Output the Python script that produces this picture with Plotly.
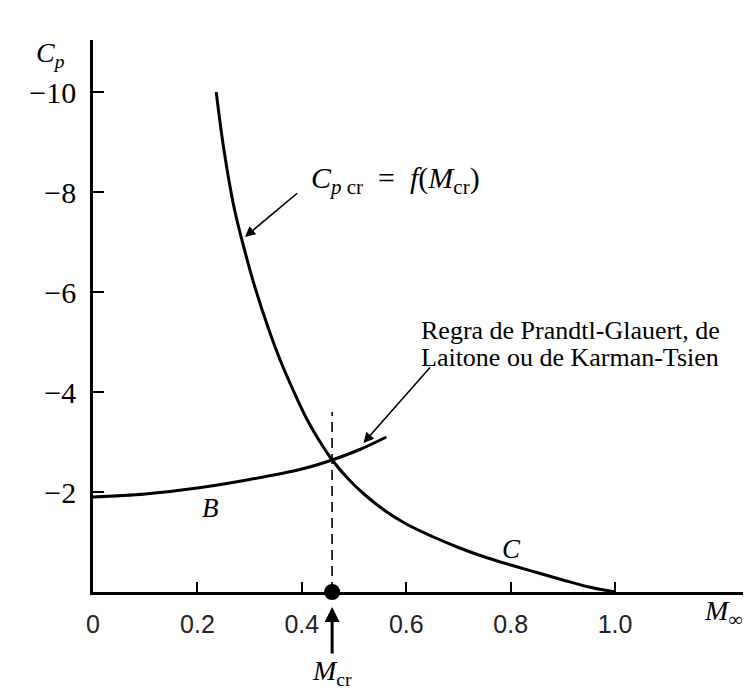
import plotly.graph_objects as go

# Curve C: critical pressure coefficient Cp_cr = f(M_cr)
C_M = [0.236, 0.250, 0.270, 0.290, 0.310, 0.335, 0.360, 0.385, 0.410, 0.435, 0.458, 0.490, 0.520, 0.560,
       0.600, 0.650, 0.700, 0.750, 0.800, 0.850, 0.900, 0.950, 1.0]
C_Cp = [-10.0, -8.9, -7.7, -6.85, -6.1, -5.3, -4.6, -4.0, -3.45, -3.0, -2.64, -2.25, -1.95, -1.62,
        -1.36, -1.11, -0.89, -0.70, -0.54, -0.39, -0.24, -0.10, 0.0]

# Curve B: compressibility correction rule
B_M = [0.0, 0.1, 0.2, 0.3, 0.4, 0.458, 0.511, 0.562]
B_Cp = [-1.90, -1.96, -2.08, -2.25, -2.46, -2.64, -2.85, -3.10]

M_CR = 0.458
DASH_TOP = -3.6

X_TICKS = [0, 0.2, 0.4, 0.6, 0.8, 1.0]
X_TICKTEXT = ["0", "0.2", "0.4", "0.6", "0.8", "1.0"]
Y_TICKS = [-10, -8, -6, -4, -2]
Y_TICKTEXT = ["\u221210", "\u22128", "\u22126", "\u22124", "\u22122"]

SERIF = "Liberation Serif"

fig = go.Figure()
fig.add_trace(go.Scatter(x=C_M, y=C_Cp, mode="lines", line=dict(color="black", width=3, shape="spline", smoothing=1.0),
                         hoverinfo="skip", showlegend=False))
fig.add_trace(go.Scatter(x=B_M, y=B_Cp, mode="lines", line=dict(color="black", width=3, shape="spline", smoothing=1.0),
                         hoverinfo="skip", showlegend=False))
fig.add_trace(go.Scatter(x=[M_CR, M_CR], y=[0, DASH_TOP], mode="lines",
                         line=dict(color="black", width=1.6, dash="10px,6px"),
                         hoverinfo="skip", showlegend=False))
fig.add_trace(go.Scatter(x=[M_CR], y=[0], mode="markers", marker=dict(color="black", size=16),
                         cliponaxis=False, hoverinfo="skip", showlegend=False))

ann = []
# Cp_cr label + arrow
ann.append(dict(x=0.413, y=-8.24, xref="x", yref="y",
                text="<i>C<sub>p</sub></i><sub> cr</sub>  =  <i>f</i>(<i>M</i><sub>cr</sub>)",
                showarrow=False, xanchor="left", yanchor="middle", font=dict(family=SERIF, size=30, color="black")))
ann.append(dict(x=0.291, y=-7.1, ax=0.394, ay=-8.0, xref="x", yref="y", axref="x", ayref="y", text="",
                showarrow=True, arrowhead=2, arrowsize=1.3, arrowwidth=1.6, arrowcolor="black"))
# Rule label (two lines) + arrow
ann.append(dict(x=0.624, y=-5.24, xref="x", yref="y", text="Regra de Prandtl-Glauert, de",
                showarrow=False, xanchor="left", yanchor="middle", font=dict(family=SERIF, size=26, color="black")))
ann.append(dict(x=0.624, y=-4.70, xref="x", yref="y", text="Laitone ou de Karman-Tsien",
                showarrow=False, xanchor="left", yanchor="middle", font=dict(family=SERIF, size=26, color="black")))
ann.append(dict(x=0.518, y=-2.98, ax=0.648, ay=-4.52, xref="x", yref="y", axref="x", ayref="y", text="",
                showarrow=True, arrowhead=2, arrowsize=1.3, arrowwidth=1.6, arrowcolor="black"))
# Curve letters
ann.append(dict(x=0.225, y=-1.68, xref="x", yref="y", text="<i>B</i>", showarrow=False,
                xanchor="center", yanchor="middle", font=dict(family=SERIF, size=27, color="black")))
ann.append(dict(x=0.802, y=-0.86, xref="x", yref="y", text="<i>C</i>", showarrow=False,
                xanchor="center", yanchor="middle", font=dict(family=SERIF, size=27, color="black")))
# Axis titles
ann.append(dict(x=0.969, y=-0.038, xref="paper", yref="paper", text="<i>M</i><sub>\u221e</sub>", showarrow=False,
                xanchor="center", yanchor="middle", font=dict(family=SERIF, size=28, color="black")))
ann.append(dict(x=-0.066, y=0.973, xref="paper", yref="paper", text="<i>C<sub>p</sub></i>", showarrow=False,
                xanchor="center", yanchor="middle", font=dict(family=SERIF, size=28, color="black")))
# M_cr marker arrow + label
ann.append(dict(x=M_CR, y=-0.027, xref="x", yref="paper", ax=0, ay=48, axref="pixel", ayref="pixel", text="",
                showarrow=True, arrowhead=2, arrowsize=1.0, arrowwidth=3, arrowcolor="black"))
ann.append(dict(x=M_CR, y=-0.146, xref="x", yref="paper", text="<i>M</i><sub>cr</sub>", showarrow=False,
                xanchor="center", yanchor="middle", font=dict(family=SERIF, size=28, color="black")))

fig.update_layout(
    width=749, height=692,
    margin=dict(l=93, r=6, t=40, b=100),
    paper_bgcolor="white", plot_bgcolor="white",
    annotations=ann,
    xaxis=dict(range=[0, 1.245], showgrid=False, zeroline=False, showline=True, linecolor="black", linewidth=2.5,
               ticks="inside", ticklen=10, tickwidth=2, tickcolor="black",
               tickvals=X_TICKS, ticktext=X_TICKTEXT, ticklabelstandoff=8,
               tickfont=dict(family="Liberation Sans", size=25, color="#222")),
    yaxis=dict(range=[0, -11.04], showgrid=False, zeroline=False, showline=True, linecolor="black", linewidth=2.5,
               ticks="inside", ticklen=11, tickwidth=2, tickcolor="black",
               tickvals=Y_TICKS, ticktext=Y_TICKTEXT, ticklabelstandoff=8,
               tickfont=dict(family=SERIF, size=30, color="black")),
)

fig.write_html("out.html")
